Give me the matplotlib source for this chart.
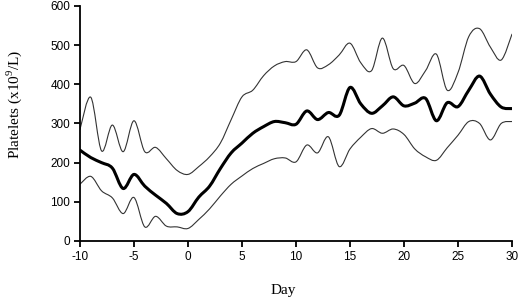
import numpy as np
import matplotlib
matplotlib.use("Agg")
import matplotlib.pyplot as plt
from matplotlib.path import Path
from matplotlib.patches import PathPatch

days = list(range(-10, 31))

upper = [285, 367, 230, 296, 228, 307, 228, 239, 210, 180,
         170, 190, 215, 250, 310, 368, 385, 422, 447, 458,
         458, 488, 442, 450, 475, 505, 455, 435, 518, 440,
         448, 402, 435, 477, 385, 430, 522, 542, 495, 462, 528]

mean = [232, 213, 200, 186, 134, 170, 140, 117, 96, 70,
        75, 112, 140, 185, 225, 250, 275, 292, 305, 302,
        298, 332, 310, 328, 321, 392, 350, 326, 345, 368,
        345, 352, 364, 307, 353, 343, 385, 421, 375, 342, 338]

lower = [145, 165, 128, 110, 70, 111, 36, 63, 38, 36,
         32, 55, 82, 115, 145, 166, 185, 198, 210, 212,
         202, 245, 225, 266, 190, 235, 265, 287, 275, 286,
         272, 235, 215, 206, 238, 270, 305, 300, 258, 300, 305]

plt.rcParams['font.family'] = ['Liberation Sans', 'DejaVu Sans']
plt.rcParams['mathtext.fontset'] = 'custom'
plt.rcParams['mathtext.rm'] = 'Liberation Serif'
plt.rcParams['axes.unicode_minus'] = False


def smooth_path(x, y):
    # smoothed line like a spreadsheet chart: Catmull-Rom as cubic Bezier
    n = len(x)
    verts = [(x[0], y[0])]
    codes = [Path.MOVETO]
    for i in range(n - 1):
        a = max(i - 1, 0)
        b = min(i + 2, n - 1)
        c1 = (x[i] + (x[i + 1] - x[a]) / 6, y[i] + (y[i + 1] - y[a]) / 6)
        c2 = (x[i + 1] - (x[b] - x[i]) / 6, y[i + 1] - (y[b] - y[i]) / 6)
        verts += [c1, c2, (x[i + 1], y[i + 1])]
        codes += [Path.CURVE4] * 3
    return Path(verts, codes)


fig = plt.figure(figsize=(5.2, 2.99), dpi=100)
ax = fig.add_axes([0.1538, 0.194, 0.8308, 0.786])

for series, lw, col in [(upper, 0.8, '#333333'), (lower, 0.8, '#333333'),
                        (mean, 2.2, 'black')]:
    ax.add_patch(PathPatch(smooth_path(days, series), fill=False,
                           lw=lw, edgecolor=col, capstyle='round',
                           joinstyle='round'))

ax.set_xlim(-10, 30)
ax.set_ylim(0, 600)
ax.set_xticks(range(-10, 31, 5))
ax.set_yticks(range(0, 601, 100))
for s in ['top', 'right']:
    ax.spines[s].set_visible(False)
for s in ['left', 'bottom']:
    ax.spines[s].set_linewidth(1.3)
ax.tick_params(direction='out', length=4, width=1.3, labelsize=8.5, pad=3)

ax.set_xlabel('Day', fontfamily='Liberation Serif', fontsize=11)
ax.xaxis.set_label_coords(0.47, -0.185)
ax.set_ylabel('Platelets (x10$^9$/L)', fontfamily='Liberation Serif',
              fontsize=11)
ax.yaxis.set_label_coords(-0.13, 0.58)

fig.savefig('out.png', dpi=100)
